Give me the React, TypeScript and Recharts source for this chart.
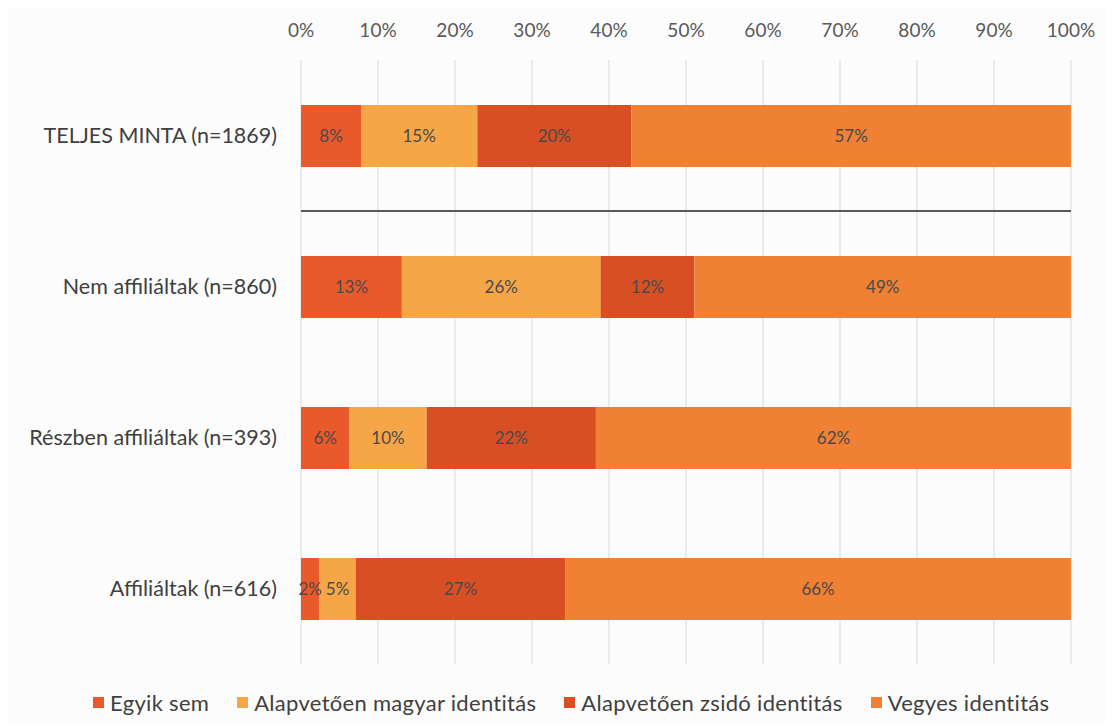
import React from 'react';
import {
  BarChart, Bar, XAxis, YAxis, CartesianGrid, Legend, LabelList, ReferenceLine
} from 'recharts';

// groups (top to bottom)
const groups = [
  'TELJES MINTA (n=1869)',
  'Nem affiliáltak (n=860)',
  'Részben affiliáltak (n=393)',
  'Affiliáltak (n=616)',
];

// shares in %
const egyikSem = [7.8, 13.1, 6.3, 2.4];
const magyar = [15.1, 25.8, 10.0, 4.7];
const zsido = [20.0, 12.2, 22.0, 27.2];
const vegyes = [57.1, 48.9, 61.7, 65.7];

const xTicks = [0, 10, 20, 30, 40, 50, 60, 70, 80, 90, 100];

const series = [
  { key: 'egyik', name: 'Egyik sem', color: '#E9592A' },
  { key: 'magyar', name: 'Alapvetően magyar identitás', color: '#F6A647' },
  { key: 'zsido', name: 'Alapvetően zsidó identitás', color: '#D94F24' },
  { key: 'vegyes', name: 'Vegyes identitás', color: '#EF8034' },
];

const data = groups.map((g, i) => ({
  group: g,
  egyik: egyikSem[i],
  magyar: magyar[i],
  zsido: zsido[i],
  vegyes: vegyes[i],
}));

const FONT = 'Lato, "Open Sans", sans-serif';

// legend in series order (recharts would sort it by name)
const renderLegend = () => (
  <div style={{ display: 'flex', alignItems: 'center', fontFamily: FONT }}>
    {series.map((s) => (
      <div key={s.key} style={{ display: 'flex', alignItems: 'center', marginRight: 28 }}>
        <span style={{ width: 11, height: 11, background: s.color, marginRight: 6, display: 'inline-block' }} />
        <span style={{ color: '#404040', fontSize: 22, letterSpacing: 0.3, whiteSpace: 'nowrap' }}>{s.name}</span>
      </div>
    ))}
  </div>
);

export default function App() {
  return (
    <div style={{ width: 1100, height: 715, background: '#fcfcfc', fontFamily: FONT }}>
      <BarChart
        width={1100}
        height={715}
        data={data}
        layout="vertical"
        margin={{ top: 22, right: 37, bottom: 32, left: 0 }}
        barSize={62}
      >
        <CartesianGrid horizontal={false} stroke="#d9d9d9" />
        <XAxis
          type="number"
          orientation="top"
          domain={[0, 100]}
          ticks={xTicks}
          tickFormatter={(v) => `${v}%`}
          axisLine={false}
          tickLine={false}
          tickSize={0}
          tickMargin={23}
          height={30}
          tick={{ fill: '#595959', fontSize: 19, fontFamily: FONT }}
        />
        <YAxis
          type="category"
          dataKey="group"
          width={293}
          axisLine={false}
          tickLine={false}
          tickSize={0}
          tickMargin={24}
          tick={{ fill: '#404040', fontSize: 21.5, fontFamily: FONT }}
        />
        {series.map((s) => (
          <Bar
            key={s.key}
            dataKey={s.key}
            name={s.name}
            stackId="a"
            fill={s.color}
            isAnimationActive={false}
          >
            <LabelList
              dataKey={s.key}
              position="center"
              formatter={(v: number) => `${Math.round(v)}%`}
              fill="#4a4a4a"
              fontSize={17}
              fontFamily={FONT}
            />
          </Bar>
        ))}
        <ReferenceLine
          y={groups[0]}
          position="end"
          stroke="#595959"
          strokeWidth={2}
        />
        <Legend
          verticalAlign="bottom"
          align="left"
          content={renderLegend}
          wrapperStyle={{ left: 85, top: 681, width: 'auto' }}
        />
      </BarChart>
    </div>
  );
}
